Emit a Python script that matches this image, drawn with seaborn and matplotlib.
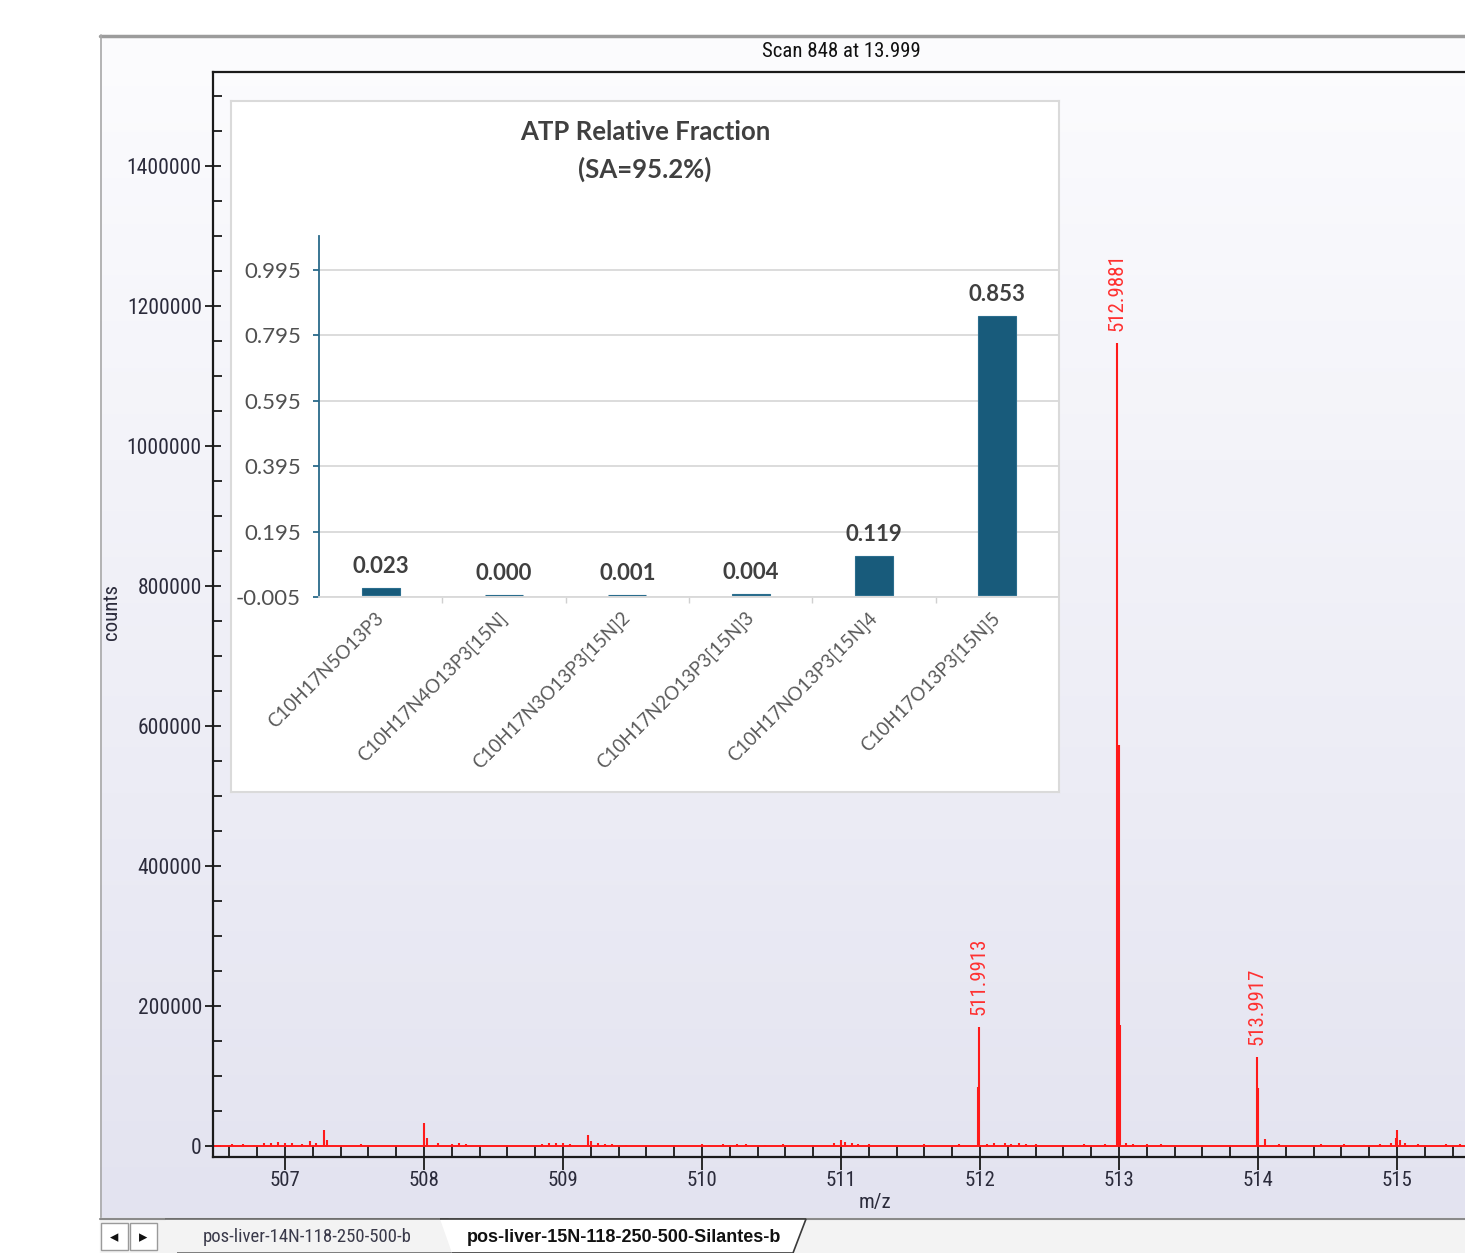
import numpy as np
import matplotlib
matplotlib.use("Agg")
import matplotlib.pyplot as plt
from matplotlib import font_manager
from matplotlib.lines import Line2D
from matplotlib.patches import Polygon, Rectangle
from matplotlib.ticker import MultipleLocator, FixedLocator, FuncFormatter
import seaborn as sns


# inset bar chart
categories = ["C10H17N5O13P3", "C10H17N4O13P3[15N]", "C10H17N3O13P3[15N]2",
              "C10H17N2O13P3[15N]3", "C10H17NO13P3[15N]4", "C10H17O13P3[15N]5"]
fractions = [0.023, 0.000, 0.001, 0.004, 0.119, 0.853]
fraction_ticks = [-0.005, 0.195, 0.395, 0.595, 0.795, 0.995]

# spectrum sticks (m/z, counts)
peak_mz = [506.62, 506.70, 506.78, 506.85, 506.90, 506.95, 507.00, 507.05, 507.12, 507.18,
           507.22, 507.28, 507.30, 507.55, 508.00, 508.02, 508.10, 508.20, 508.25, 508.30,
           508.85, 508.90, 508.95, 509.00, 509.05, 509.18, 509.20, 509.25, 509.30, 509.35,
           509.45, 510.00, 510.05, 510.15, 510.20, 510.25, 510.32, 510.45, 510.58, 510.95,
           511.00, 511.03, 511.08, 511.12, 511.20, 511.42, 511.60, 511.85, 511.986, 511.9913,
           512.05, 512.10, 512.18, 512.22, 512.28, 512.33, 512.40, 512.75, 512.90, 512.9881,
           512.998, 513.004, 513.05, 513.10, 513.20, 513.30, 513.60, 513.9917, 513.998, 514.05,
           514.15, 514.45, 514.62, 514.88, 514.96, 514.99, 515.00, 515.02, 515.06, 515.15,
           515.35, 515.45]
peak_counts = [2500, 3000, 2000, 5000, 4000, 6000, 5000, 4000, 3000, 7000,
               4000, 23000, 9000, 3000, 33000, 12000, 4000, 3000, 4000, 3000,
               3000, 4000, 5000, 4000, 3000, 16000, 7000, 4000, 3000, 3000,
               2000, 3000, 2000, 3000, 2000, 3000, 2500, 2000, 2500, 4000,
               9000, 6000, 5000, 3000, 2500, 2000, 2500, 3000, 84000, 170000,
               3000, 4000, 4000, 3000, 4000, 3000, 3000, 2500, 2500, 1147000,
               573000, 173000, 4000, 3000, 3000, 2500, 2000, 127000, 83000, 10000,
               2500, 2500, 2500, 2500, 5000, 12000, 23000, 9000, 4000, 3000,
               2500, 2500]
labelled_mz = [511.9913, 512.9881, 513.9917]
labelled_counts = [170000, 1147000, 127000]
mz_ticks = [507, 508, 509, 510, 511, 512, 513, 514, 515]
count_ticks = [0, 200000, 400000, 600000, 800000, 1000000, 1200000, 1400000]

sns.set_theme(style="white")
fonts = font_manager.fontManager.ttflist
names = {f.name for f in fonts}
bold_names = {f.name for f in fonts if f.weight in (700, "bold")}
narrow = next(n for n in ["Liberation Sans Narrow", "Roboto Condensed", "Liberation Sans", "DejaVu Sans"]
              if n in names)
inset_font = next(n for n in ["Noto Sans", "Lato", "Open Sans", "Roboto", "DejaVu Sans"]
                  if n in bold_names)
tab_font = "Liberation Sans" if "Liberation Sans" in bold_names else "DejaVu Sans"
plt.rcParams["font.family"] = [narrow, "DejaVu Sans"]

W, H = 1465, 1253
fig = plt.figure(figsize=(W / 100, H / 100), dpi=100)
fig.patch.set_facecolor("white")


def fx(x):
    return x / W


def fy(y):
    return 1 - y / H


def box(x0, y0, x1, y1):
    return [fx(x0), fy(y1), fx(x1) - fx(x0), fy(y0) - fy(y1)]


# panel background gradient
bg = fig.add_axes(box(100, 35, 1470, 1218), zorder=0)
grad = np.linspace(0, 1, 256)[:, None]
bg.imshow(grad, aspect="auto", extent=[0, 1, 0, 1], origin="upper",
          cmap=matplotlib.colors.LinearSegmentedColormap.from_list("g", ["#fcfcfe", "#e3e3f0"]))
bg.axis("off")
fig.add_artist(Line2D([fx(100), 1], [fy(36), fy(36)], color="#9c9c9c", lw=2.5))
fig.add_artist(Line2D([fx(100.5), fx(100.5)], [fy(35), fy(1218)], color="#a8a8a8", lw=1.2))

# spectrum
ax = fig.add_axes(box(213, 72, 1470, 1157), zorder=1)
ax.set_facecolor("none")
ax.set_xlim(506.482, 515.525)
ax.set_ylim(-15714, 1534286)
ax.axhline(0, color="#ff1a1a", lw=1.4)
ax.vlines(peak_mz, 0, peak_counts, color="#ff1a1a", lw=1.5)
for mz, c in zip(labelled_mz, labelled_counts):
    ax.annotate(f"{mz:.4f}", xy=(mz, c), xytext=(0, 9), textcoords="offset points",
                rotation=90, ha="center", va="bottom", color="#ff3030", fontsize=15)

for side in ["top", "left", "bottom"]:
    ax.spines[side].set_color("#1a1a1a")
    ax.spines[side].set_linewidth(1.6)
ax.spines["right"].set_visible(False)
ax.set_xticks(mz_ticks)
ax.xaxis.set_minor_locator(MultipleLocator(0.2))
ax.set_yticks(count_ticks)
ax.yaxis.set_major_formatter(FuncFormatter(lambda v, p: f"{v:.0f}"))
ax.yaxis.set_minor_locator(MultipleLocator(50000))
ax.tick_params(axis="x", which="major", direction="inout", length=18, width=1.3,
               color="#1a1a1a", labelsize=15, labelcolor="#2b2b3b", pad=1)
ax.tick_params(axis="x", which="minor", direction="in", length=8, width=1.3, color="#1a1a1a")
ax.tick_params(axis="y", which="major", direction="inout", length=12, width=1.3,
               color="#1a1a1a", labelsize=15.5, labelcolor="#2b2b3b", pad=2)
ax.tick_params(axis="y", which="minor", direction="in", length=6.5, width=1.3, color="#1a1a1a")
ax.tick_params(bottom=True, left=True, which="both")
ax.set_title("Scan 848 at 13.999", fontsize=15, color="#111111", pad=11)
ax.set_xlabel("m/z", fontsize=15, color="#2b2b3b")
ax.xaxis.set_label_coords(0.527, -0.033)
ax.set_ylabel("counts", fontsize=15, color="#2b2b3b")
ax.yaxis.set_label_coords(-0.073, 0.502)

# inset box
inbg = fig.add_axes(box(231, 101, 1059, 792), zorder=3)
inbg.set_facecolor("white")
inbg.set_xticks([])
inbg.set_yticks([])
for s in inbg.spines.values():
    s.set_color("#dadada")
    s.set_linewidth(1.5)

iax = fig.add_axes(box(319, 236, 1059, 597), zorder=4)
iax.set_facecolor("none")
sns.barplot(x=categories, y=fractions, color="#185b7b", saturation=1, width=0.31,
            edgecolor="#2a6d8d", linewidth=0.8, ax=iax)
iax.set_xlim(-0.5, 5.5)
iax.set_ylim(-0.005, 1.099)
iax.set_yticks(fraction_ticks)
iax.set_yticklabels([f"{t:.3f}" for t in fraction_ticks], fontsize=16, color="#505050",
                    family=inset_font)
iax.yaxis.grid(True, color="#d9d9d9", lw=1.3)
iax.set_axisbelow(True)
iax.bar_label(iax.containers[0], fmt="%.3f", padding=8, fontsize=16, fontweight="bold",
              color="#404040", family=inset_font)
iax.set_xticks(range(len(categories)))
iax.set_xticklabels(categories, rotation=45, ha="right", va="center", rotation_mode="anchor",
                    fontsize=13.5, color="#595959", family=inset_font)
iax.xaxis.set_minor_locator(FixedLocator([0.5, 1.5, 2.5, 3.5, 4.5]))
iax.tick_params(axis="x", which="major", length=0, pad=13)
iax.tick_params(axis="x", which="minor", bottom=True, length=4, color="#d0d0d0", width=1)
iax.tick_params(axis="y", left=True, length=4, color="#2a6a8a", width=1.3, pad=9)
iax.set_xlabel("")
iax.set_ylabel("")
for side in ["top", "right"]:
    iax.spines[side].set_visible(False)
iax.spines["bottom"].set_color("#d9d9d9")
iax.spines["bottom"].set_linewidth(1.3)
iax.spines["left"].set_color("#2a6a8a")
iax.spines["left"].set_linewidth(1.3)
fig.text(fx(645), fy(151), "ATP Relative Fraction\n(SA=95.2%)", ha="center", va="center",
         fontsize=18.5, fontweight="bold", color="#404040", family=inset_font, linespacing=1.58,
         zorder=5)

# sheet tabs
fig.add_artist(Rectangle((fx(100), 0), 1 - fx(100), fy(1218), color="#f3f3f3", zorder=6))
fig.add_artist(Line2D([fx(100), 1], [fy(1219), fy(1219)], color="#8a8a8a", lw=1.5, zorder=7))
for x0 in [101, 130]:
    fig.add_artist(Rectangle((fx(x0), fy(1250)), fx(27), fy(1223) - fy(1250),
                             facecolor="white", edgecolor="#9a9a9a", lw=1, zorder=7))
fig.text(fx(114.5), fy(1237), "\u25c2", ha="center", va="center", fontsize=12,
         family="DejaVu Sans", color="#111111", zorder=8)
fig.text(fx(143.5), fy(1237), "\u25b8", ha="center", va="center", fontsize=12,
         family="DejaVu Sans", color="#111111", zorder=8)
tab1 = [(165, 1219), (448, 1219), (458, 1253), (177, 1253)]
tab2 = [(440, 1219), (806, 1219), (793, 1253), (452, 1253)]
fig.add_artist(Polygon([(fx(a), fy(b)) for a, b in tab1], closed=False, facecolor="#f3f3f3",
                       edgecolor="#6a6a6a", lw=1.2, zorder=7))
fig.add_artist(Polygon([(fx(a), fy(b)) for a, b in tab2], closed=False, facecolor="white",
                       edgecolor="#3a3a3a", lw=1.2, zorder=8))
fig.text(fx(307), fy(1237), "pos-liver-14N-118-250-500-b", ha="center", va="center",
         fontsize=13.5, color="#3a3a4a", zorder=9)
fig.text(fx(624), fy(1237), "pos-liver-15N-118-250-500-Silantes-b", ha="center", va="center",
         fontsize=13, fontweight="bold", color="#111111", family=tab_font, zorder=9)

fig.savefig("out.png", dpi=100)
